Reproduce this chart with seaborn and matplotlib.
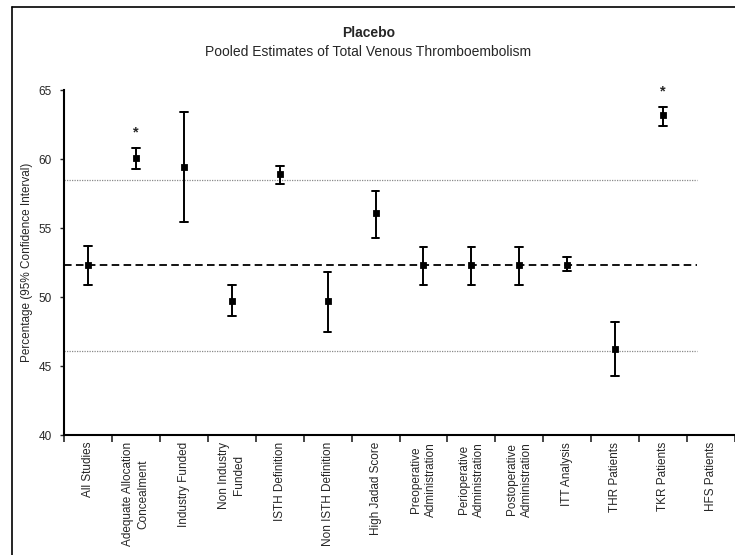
import numpy as np
import pandas as pd
import matplotlib
matplotlib.use("Agg")
import matplotlib.pyplot as plt
from matplotlib.lines import Line2D
from matplotlib.ticker import FixedLocator
import seaborn as sns

# Subgroup estimates (percent) with 95% confidence limits
categories = [
    "All Studies", "Adequate Allocation\nConcealment", "Industry Funded",
    "Non Industry\nFunded", "ISTH Definition", "Non ISTH Definition",
    "High Jadad Score", "Preoperative\nAdministration",
    "Perioperative\nAdministration", "Postoperative\nAdministration",
    "ITT Analysis", "THR Patients", "TKR Patients", "HFS Patients",
]
estimate = [52.3, 60.1, 59.4, 49.7, 58.9, 49.7, 56.1, 52.3, 52.3, 52.3, 52.3, 46.2, 63.2, None]
lower = [50.9, 59.3, 55.4, 48.6, 58.2, 47.5, 54.3, 50.9, 50.9, 50.9, 51.9, 44.3, 62.4, None]
upper = [53.7, 60.8, 63.4, 50.9, 59.5, 51.8, 57.7, 53.6, 53.6, 53.6, 52.9, 48.2, 63.8, None]
significant = ["Adequate Allocation\nConcealment", "TKR Patients"]

pooled = 52.3
pooled_low = 46.1
pooled_high = 58.5

yticks = [40, 45, 50, 55, 60, 65]

# Long format: each subgroup contributes its lower limit, estimate and upper limit
rows = []
for cat, lo, mid, hi in zip(categories, lower, estimate, upper):
    if mid is None:
        continue
    for v in (lo, mid, hi):
        rows.append({"group": cat, "value": v})
df = pd.DataFrame(rows)

sns.set_style("white")
plt.rcParams["font.family"] = ["Liberation Sans", "DejaVu Sans"]

fig = plt.figure(figsize=(7.35, 5.55), dpi=100)
ax = fig.add_axes([0.0871, 0.2162, 0.9129, 0.6216])

sns.pointplot(
    data=df, x="group", y="value", order=categories,
    estimator="median", errorbar=lambda v: (v.min(), v.max()),
    linestyle="none", marker="s", markersize=2.6, color="black",
    capsize=0.16, err_kws={"linewidth": 1.4}, ax=ax,
)

n = len(categories)
ax.set_xlim(-0.5, n - 0.5)
ax.set_ylim(40, 65)

# Pooled estimate and its limits
ax.hlines(pooled, -0.5, 12.7, colors="black", linestyles=(0, (4.2, 2.4)), linewidth=1.3, zorder=0)
ax.hlines([pooled_low, pooled_high], -0.5, 12.7, colors="#8a8a8a", linestyles=(0, (1, 1)), linewidth=0.9, zorder=0)

# Significance markers
for cat in significant:
    i = categories.index(cat)
    ax.text(i, upper[i] + 1.1, "*", ha="center", va="center", fontsize=10.5,
            fontweight="bold", clip_on=False)

ax.set_yticks(yticks)
ax.set_yticklabels([str(t) for t in yticks], fontsize=8.5)
ax.set_xticks(range(n))
ax.set_xticklabels(categories, rotation=90, fontsize=8.5, va="top", ha="center",
                   multialignment="center", linespacing=1.35)
ax.xaxis.set_minor_locator(FixedLocator(np.arange(-0.5, n, 1.0)))
ax.tick_params(axis="x", which="major", length=0, pad=5)
ax.tick_params(axis="x", which="minor", length=5, width=1.2, direction="out", bottom=True)
ax.tick_params(axis="y", length=3, width=1.0, direction="out", left=True, pad=6)

ax.set_xlabel("")
ax.set_ylabel("Percentage (95% Confidence Interval)", fontsize=8.5)
ax.yaxis.set_label_coords(-0.046, 0.5)

for side in ("top", "right"):
    ax.spines[side].set_visible(False)
for side in ("left", "bottom"):
    ax.spines[side].set_color("black")
    ax.spines[side].set_linewidth(1.5)

fig.text(0.501, 0.941, "Placebo", ha="center", va="center", fontsize=10, fontweight="bold")
fig.text(0.501, 0.906, "Pooled Estimates of Total Venous Thromboembolism", ha="center", va="center", fontsize=10)

# Chart frame
fig.add_artist(Line2D([12 / 735, 1.0], [1 - 7 / 555, 1 - 7 / 555], color="black", linewidth=1.2, transform=fig.transFigure))
fig.add_artist(Line2D([12 / 735, 12 / 735], [0.0, 1 - 7 / 555], color="black", linewidth=1.2, transform=fig.transFigure))

fig.savefig("out.png", dpi=100)
